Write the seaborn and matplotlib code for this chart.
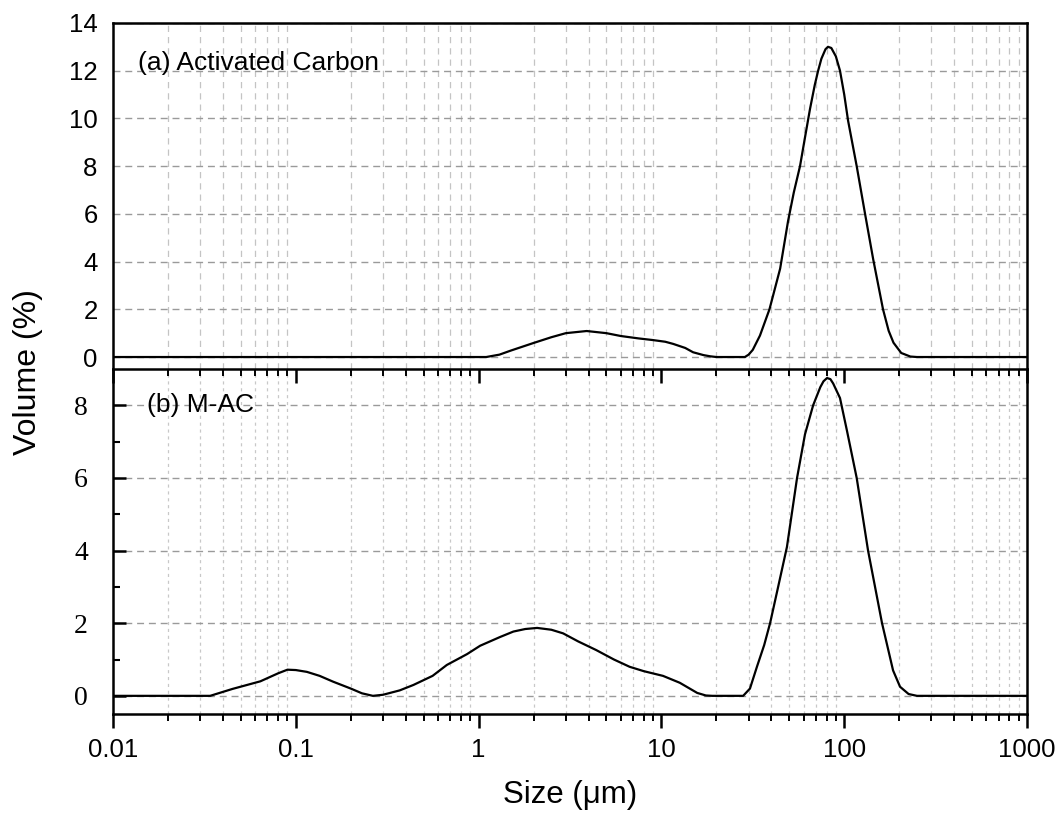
import numpy as np
import pandas as pd
import seaborn as sns
import matplotlib.pyplot as plt
from matplotlib.ticker import FixedLocator, FixedFormatter, NullFormatter, LogLocator

# particle size distribution
size_ac = [0.01, 1.1, 1.3, 1.5, 2.0, 2.5, 3.0, 3.9, 5.0, 6.0, 7.5, 9.0, 10.5, 11.6, 13.5, 14.9,
           17, 18.5, 20, 28.6, 30, 31.6, 34.6, 39, 44.6, 49.3, 53, 57.3, 61, 65, 69, 72,
           75, 79, 81.5, 85, 90, 94.8, 100, 105, 117, 130, 144, 163, 175, 186, 205, 230,
           250, 1000]
vol_ac = [0, 0, 0.1, 0.27, 0.59, 0.83, 1.0, 1.09, 1.0, 0.88, 0.78, 0.71, 0.64, 0.55, 0.38, 0.2,
          0.08, 0.03, 0, 0, 0.1, 0.3, 0.9, 2.0, 3.7, 5.7, 6.9, 8.0, 9.2, 10.4, 11.4, 12.0,
          12.5, 12.9, 13.0, 12.95, 12.6, 12.0, 11.0, 9.9, 8.0, 6.0, 4.1, 2.0, 1.1, 0.6, 0.17,
          0.02, 0, 0]

size_mac = [0.01, 0.034, 0.045, 0.064, 0.08, 0.09, 0.1, 0.115, 0.135, 0.16, 0.2, 0.23, 0.264,
            0.3, 0.37, 0.44, 0.56, 0.67, 0.865, 1.02, 1.31, 1.55, 1.8, 2.09, 2.5, 2.9, 3.5,
            4.4, 5.5, 6.7, 8.0, 10.2, 12.6, 15.7, 17.5, 19, 28, 30.5, 33.3, 36.5, 39.3, 43.5,
            48.6, 55.2, 61, 67.6, 74, 77, 80.5, 84, 87, 94.8, 103.5, 117, 135, 161, 185, 202,
            225, 250, 1000]
vol_mac = [0, 0, 0.19, 0.40, 0.62, 0.72, 0.71, 0.66, 0.55, 0.39, 0.2, 0.07, 0,
           0.03, 0.15, 0.30, 0.55, 0.85, 1.15, 1.38, 1.62, 1.77, 1.84, 1.87, 1.82, 1.72, 1.5,
           1.26, 1.0, 0.80, 0.68, 0.55, 0.36, 0.08, 0.01, 0, 0, 0.2, 0.8, 1.4, 2.0, 3.0,
           4.1, 6.0, 7.2, 8.0, 8.5, 8.66, 8.75, 8.72, 8.6, 8.2, 7.3, 6.0, 4.0, 2.0, 0.7, 0.25,
           0.05, 0, 0]

x_ticks = [0.01, 0.1, 1, 10, 100, 1000]
x_labels = ['0.01', '0.1', '1', '10', '100', '1000']
yticks_ac = [0, 2, 4, 6, 8, 10, 12, 14]
yticks_mac = [0, 2, 4, 6, 8]

df_ac = pd.DataFrame({'size': size_ac, 'volume': vol_ac})
df_mac = pd.DataFrame({'size': size_mac, 'volume': vol_mac})

sns.set_theme(style='white')
plt.rcParams['font.family'] = ['Liberation Sans', 'DejaVu Sans']
plt.rcParams['text.color'] = 'black'
plt.rcParams['xtick.color'] = 'black'
plt.rcParams['ytick.color'] = 'black'
plt.rcParams['xtick.labelcolor'] = 'black'
plt.rcParams['ytick.labelcolor'] = 'black'

fig = plt.figure(figsize=(10.6, 8.19), dpi=100)
ax2 = fig.add_axes([0.1066, 0.1282, 0.8623, 0.4213])
ax1 = fig.add_axes([0.1066, 0.5495, 0.8623, 0.4225])
ax1.set_zorder(3)

sns.lineplot(data=df_ac, x='size', y='volume', ax=ax1, color='black', lw=1.6)
sns.lineplot(data=df_mac, x='size', y='volume', ax=ax2, color='black', lw=1.6)

minor = LogLocator(base=10, subs=np.arange(2, 10), numticks=20)
for ax in (ax1, ax2):
    ax.set_xscale('log')
    ax.set_xlim(0.01, 1000)
    ax.xaxis.set_major_locator(FixedLocator(x_ticks))
    ax.xaxis.set_minor_locator(minor)
    ax.xaxis.set_minor_formatter(NullFormatter())
    ax.set_xlabel('')
    ax.set_ylabel('')
    ax.set_axisbelow(True)
    for s in ax.spines.values():
        s.set_color('black')
        s.set_linewidth(1.8)
    ax.tick_params(axis='x', which='major', direction='out', length=10, width=1.8,
                   color='black', bottom=True)
    ax.tick_params(axis='x', which='minor', direction='out', length=5, width=1.4,
                   color='black', bottom=True)
    ax.yaxis.grid(True, which='major', ls=(0, (5, 3.5)), color='#9a9a9a', lw=1.0)
    ax.xaxis.grid(False, which='major')

# top panel
ax1.set_ylim(-0.5, 14)
ax1.set_yticks(yticks_ac)
ax1.set_yticklabels([str(v) for v in yticks_ac], fontsize=18.5)
ax1.tick_params(axis='y', which='both', length=0, pad=11)
ax1.tick_params(axis='x', which='both', labelbottom=False)
ax1.xaxis.grid(True, which='minor', ls=(0, (5, 4)), color='#c4c4c4', lw=0.9)
ax1.text(0.027, 0.884, '(a) Activated Carbon', transform=ax1.transAxes,
         fontsize=19, va='center', ha='left')

# bottom panel
ax2.set_ylim(-0.5, 9)
ax2.set_yticks(yticks_mac)
ax2.set_yticklabels([str(v) for v in yticks_mac], fontsize=20, family='Liberation Serif')
ax2.yaxis.set_minor_locator(FixedLocator([1, 3, 5, 7]))
ax2.tick_params(axis='y', which='major', direction='in', length=9, width=1.8, pad=18, left=True)
ax2.tick_params(axis='y', which='minor', direction='in', length=5, width=1.5, left=True)
ax2.spines['top'].set_visible(False)
ax2.xaxis.grid(True, which='minor', ls=(0, (2.5, 3)), color='#c8c8c8', lw=0.9)
ax2.xaxis.set_major_formatter(FixedFormatter(x_labels))
ax2.tick_params(axis='x', which='major', labelsize=18.5, pad=7)
ax2.text(0.037, 0.896, '(b) M-AC', transform=ax2.transAxes,
         fontsize=19, va='center', ha='left')

fig.text(0.026, 1 - 372 / 819, 'Volume (%)', rotation=90, fontsize=23,
         ha='center', va='center')
fig.text(0.538, 1 - 795 / 819, 'Size (μm)', fontsize=22.5, ha='center', va='center')

fig.savefig('out.png', dpi=100, facecolor='white')
